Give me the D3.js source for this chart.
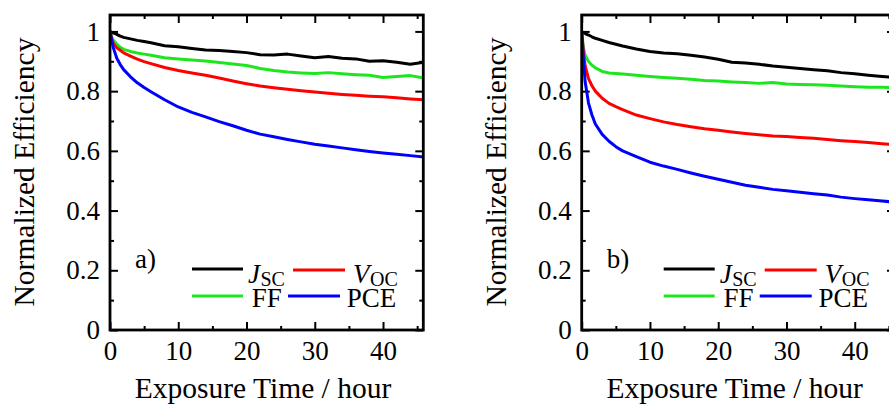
<!DOCTYPE html>
<html>
<head>
<meta charset="utf-8">
<script src="https://cdn.jsdelivr.net/npm/d3@7"></script>
<style>
  html, body { margin: 0; padding: 0; background: #fff; }
  svg { display: block; }
  svg text { font-family: "Liberation Serif", serif !important; fill: #000; }
</style>
</head>
<body>
<svg id="chart" width="889" height="405"></svg>
<script>
// ---------------- DATA ----------------
const hours = [0, 0.25, 0.5, 1, 1.5, 2, 3, 4, 5, 6, 8, 10, 12, 14, 16, 18, 20, 22, 24, 26, 28, 30, 32, 34, 36, 38, 40, 42, 44, 46];

// panel a)
const jscA = [1, 0.997, 0.995, 0.99, 0.984, 0.98, 0.975, 0.97, 0.966, 0.962, 0.952, 0.949, 0.943, 0.938, 0.936, 0.933, 0.929, 0.922, 0.921, 0.924, 0.918, 0.912, 0.916, 0.910, 0.908, 0.900, 0.902, 0.897, 0.890, 0.897];
const ffA  = [1, 0.982, 0.970, 0.958, 0.947, 0.940, 0.933, 0.928, 0.924, 0.920, 0.912, 0.908, 0.904, 0.901, 0.896, 0.891, 0.886, 0.876, 0.869, 0.864, 0.861, 0.859, 0.862, 0.858, 0.855, 0.853, 0.846, 0.849, 0.852, 0.844];
const vocA = [1, 0.975, 0.960, 0.945, 0.937, 0.928, 0.917, 0.907, 0.899, 0.892, 0.879, 0.869, 0.861, 0.853, 0.844, 0.834, 0.825, 0.817, 0.811, 0.806, 0.801, 0.797, 0.793, 0.789, 0.786, 0.783, 0.781, 0.778, 0.774, 0.771];
const pceA = [1, 0.970, 0.944, 0.910, 0.889, 0.872, 0.848, 0.828, 0.812, 0.798, 0.771, 0.747, 0.729, 0.714, 0.698, 0.684, 0.669, 0.656, 0.647, 0.638, 0.630, 0.622, 0.616, 0.610, 0.604, 0.598, 0.593, 0.589, 0.584, 0.579];

// panel b)
const jscB = [1, 0.996, 0.993, 0.988, 0.982, 0.977, 0.970, 0.963, 0.957, 0.951, 0.941, 0.933, 0.928, 0.925, 0.920, 0.914, 0.907, 0.897, 0.894, 0.890, 0.884, 0.880, 0.876, 0.872, 0.868, 0.862, 0.858, 0.853, 0.849, 0.846];
const ffB  = [1, 0.945, 0.920, 0.899, 0.887, 0.878, 0.866, 0.861, 0.859, 0.857, 0.853, 0.849, 0.846, 0.843, 0.840, 0.836, 0.834, 0.831, 0.829, 0.826, 0.829, 0.824, 0.822, 0.821, 0.820, 0.817, 0.815, 0.813, 0.813, 0.812];
const vocB = [1, 0.930, 0.885, 0.842, 0.818, 0.800, 0.776, 0.759, 0.748, 0.738, 0.720, 0.708, 0.697, 0.688, 0.681, 0.674, 0.669, 0.663, 0.658, 0.654, 0.650, 0.648, 0.645, 0.642, 0.638, 0.634, 0.631, 0.628, 0.624, 0.621];
const pceB = [1, 0.910, 0.832, 0.760, 0.720, 0.690, 0.655, 0.632, 0.614, 0.600, 0.581, 0.562, 0.549, 0.538, 0.526, 0.515, 0.505, 0.495, 0.485, 0.478, 0.471, 0.466, 0.461, 0.456, 0.452, 0.445, 0.440, 0.436, 0.432, 0.428];

const seriesNames = ["Jsc", "Voc", "FF", "PCE"];
const seriesColors = ["#000000", "#ff0000", "#1ee61e", "#0000ff"];
const panelLabels = ["a)", "b)"];
const xMajorTicks = [0, 10, 20, 30, 40];
const xMinorTicks = [5, 15, 25, 35, 45];
const yMajorTicks = [0, 0.2, 0.4, 0.6, 0.8, 1];
const yMinorTicks = [0.1, 0.3, 0.5, 0.7, 0.9];
const xTitle = "Exposure Time / hour";
const yTitle = "Normalized Efficiency";

const panels = [
  { label: panelLabels[0], series: [jscA, vocA, ffA, pceA] },
  { label: panelLabels[1], series: [jscB, vocB, ffB, pceB] }
];

// ---------------- LAYOUT ----------------
const FONT = '"Liberation Serif", serif';
const svg = d3.select("#chart");
const panelLefts = [110, 581.7];
const plotTop = 15, plotBottom = 330, pw = 313.3;
const H = plotBottom - plotTop;

const x = d3.scaleLinear().domain([0, 45.9]).range([0, pw]);
const y = d3.scaleLinear().domain([0, 1.055]).range([H, 0]);

const tickFont = 27;
const titleFont = 29.5;

function styleAxis(g) {
  g.attr("font-family", null).attr("font-size", null);
  g.selectAll(".domain").remove();
  g.selectAll(".tick line").attr("stroke", "#000").attr("stroke-width", 2);
  g.selectAll("text").style("font-family", FONT).style("font-size", tickFont + "px").attr("fill", "#000");
}

function txt(sel, size) {
  return sel.append("text").style("font-family", FONT).style("font-size", size + "px").attr("fill", "#000");
}

panels.forEach((p, pi) => {
  const g = svg.append("g").attr("transform", `translate(${panelLefts[pi]},${plotTop})`);

  g.append("g").attr("transform", `translate(0,${H})`)
    .call(d3.axisBottom(x).tickValues(xMajorTicks).tickSize(-8).tickPadding(11).tickFormat(d3.format("d")))
    .call(styleAxis);
  g.append("g").attr("transform", `translate(0,${H})`)
    .call(d3.axisBottom(x).tickValues(xMinorTicks).tickSize(-4).tickFormat(""))
    .call(styleAxis);
  g.append("g").call(d3.axisTop(x).tickValues(xMajorTicks).tickSize(-8).tickFormat("")).call(styleAxis);
  g.append("g").call(d3.axisTop(x).tickValues(xMinorTicks).tickSize(-4).tickFormat("")).call(styleAxis);
  g.append("g")
    .call(d3.axisLeft(y).tickValues(yMajorTicks).tickSize(-8).tickPadding(10).tickFormat(d => String(+d.toFixed(1))))
    .call(styleAxis);
  g.append("g").call(d3.axisLeft(y).tickValues(yMinorTicks).tickSize(-4).tickFormat("")).call(styleAxis);
  g.append("g").attr("transform", `translate(${pw},0)`)
    .call(d3.axisRight(y).tickValues(yMajorTicks).tickSize(-8).tickFormat("")).call(styleAxis);
  g.append("g").attr("transform", `translate(${pw},0)`)
    .call(d3.axisRight(y).tickValues(yMinorTicks).tickSize(-4).tickFormat("")).call(styleAxis);

  const clipId = "clip" + pi;
  g.append("clipPath").attr("id", clipId).append("rect").attr("x", 0).attr("y", 0).attr("width", pw).attr("height", H);

  const line = d3.line().x((d, i) => x(hours[i])).y(d => y(d));
  const lines = g.append("g").attr("clip-path", `url(#${clipId})`);
  [2, 1, 0, 3].forEach(si => {
    lines.append("path")
      .attr("d", line(p.series[si]))
      .attr("fill", "none")
      .attr("stroke", seriesColors[si])
      .attr("stroke-width", 3)
      .attr("stroke-linejoin", "round");
  });

  g.append("rect").attr("x", 0).attr("y", 0).attr("width", pw).attr("height", H)
    .attr("fill", "none").attr("stroke", "#000").attr("stroke-width", 2.8);

  txt(g, 27).attr("x", 25).attr("y", 268 - plotTop).text(p.label);

  const leg = g.append("g");
  const legLines = [
    { si: 0, x1: 82, x2: 133, y: 269 },
    { si: 1, x1: 183, x2: 235, y: 270 },
    { si: 2, x1: 82, x2: 133, y: 296 },
    { si: 3, x1: 178, x2: 230, y: 296 }
  ];
  legLines.forEach(l => {
    leg.append("line").attr("x1", l.x1).attr("x2", l.x2).attr("y1", l.y - plotTop).attr("y2", l.y - plotTop)
      .attr("stroke", seriesColors[l.si]).attr("stroke-width", 3);
  });
  // J_SC and V_OC as main letter + subscript text
  function subLabel(xp, main, sub) {
    const m = txt(leg, 27).attr("x", xp).attr("y", 283 - plotTop).style("font-style", "italic").text(main);
    const w = m.node().getComputedTextLength();
    txt(leg, 20).attr("x", xp + w + 0.5).attr("y", 286 - plotTop).text(sub);
  }
  subLabel(138, "J", "SC");
  subLabel(243, "V", "OC");
  txt(leg, 27).attr("x", 141.7).attr("y", 307 - plotTop).text("FF");
  txt(leg, 27).attr("x", 236.7).attr("y", 307 - plotTop).text("PCE");

  txt(g, titleFont).attr("x", 153).attr("y", 398 - plotTop).attr("text-anchor", "middle").text(xTitle);
  txt(g, titleFont).attr("transform", `translate(${-76},${172 - plotTop}) rotate(-90)`)
    .attr("text-anchor", "middle").text(yTitle);
});
</script>
</body>
</html>
